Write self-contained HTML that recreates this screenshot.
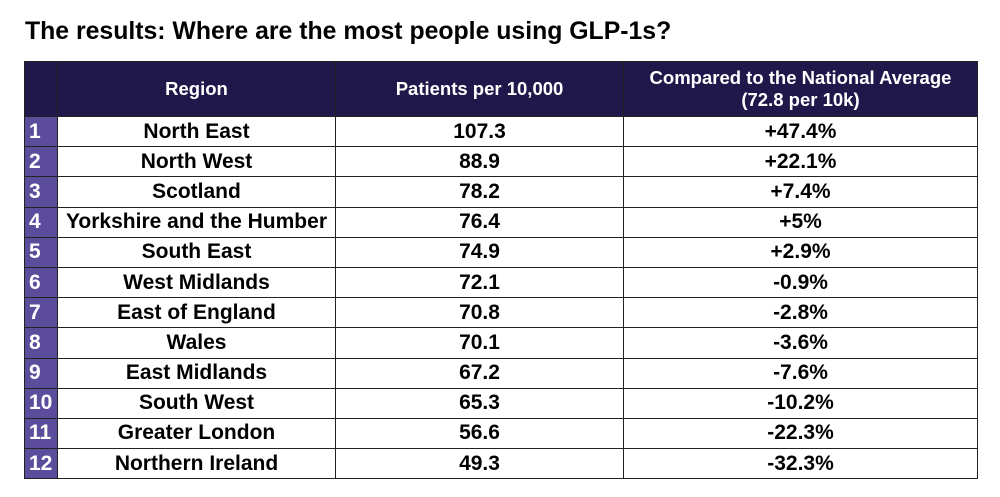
<!DOCTYPE html>
<html><head><meta charset="utf-8"><style>
body{margin:0;width:1000px;height:497px;background:#fff;font-family:"Liberation Sans",Arial,sans-serif;position:relative;overflow:hidden}
.t{position:absolute;left:25px;top:18px;font-size:24.8px;font-weight:bold;color:#000;white-space:nowrap}
table{position:absolute;left:24px;top:61px;border-collapse:collapse;width:953px;table-layout:fixed}
td,th{border:1.5px solid #222;text-align:center;font-weight:bold;padding:0;white-space:nowrap}
th{background:#20184a;color:#fff;font-size:18.5px;height:54px;line-height:22px}
tr.r{height:30.2px}
td{font-size:21px;color:#000;line-height:22px}
td.n{background:#5c4c9c;color:#fff;text-align:left;padding-left:4px;font-size:21px}
</style></head><body>
<div class="t">The results: Where are the most people using GLP-1s?</div>
<table>
<colgroup><col style="width:33px"><col style="width:278px"><col style="width:288px"><col style="width:354px"></colgroup>
<tr><th></th><th>Region</th><th>Patients per 10,000</th><th>Compared to the National Average<br>(72.8 per 10k)</th></tr>
<tr class="r"><td class="n">1</td><td>North East</td><td>107.3</td><td>+47.4%</td></tr>
<tr class="r"><td class="n">2</td><td>North West</td><td>88.9</td><td>+22.1%</td></tr>
<tr class="r"><td class="n">3</td><td>Scotland</td><td>78.2</td><td>+7.4%</td></tr>
<tr class="r"><td class="n">4</td><td>Yorkshire and the Humber</td><td>76.4</td><td>+5%</td></tr>
<tr class="r"><td class="n">5</td><td>South East</td><td>74.9</td><td>+2.9%</td></tr>
<tr class="r"><td class="n">6</td><td>West Midlands</td><td>72.1</td><td>-0.9%</td></tr>
<tr class="r"><td class="n">7</td><td>East of England</td><td>70.8</td><td>-2.8%</td></tr>
<tr class="r"><td class="n">8</td><td>Wales</td><td>70.1</td><td>-3.6%</td></tr>
<tr class="r"><td class="n">9</td><td>East Midlands</td><td>67.2</td><td>-7.6%</td></tr>
<tr class="r"><td class="n">10</td><td>South West</td><td>65.3</td><td>-10.2%</td></tr>
<tr class="r"><td class="n">11</td><td>Greater London</td><td>56.6</td><td>-22.3%</td></tr>
<tr class="r"><td class="n">12</td><td>Northern Ireland</td><td>49.3</td><td>-32.3%</td></tr>
</table>
</body></html>
